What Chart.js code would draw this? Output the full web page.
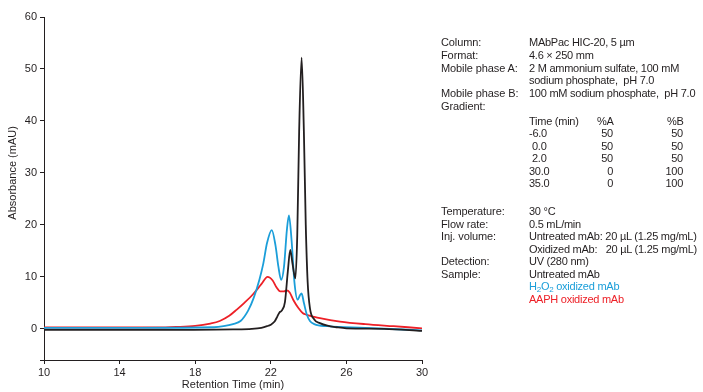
<!DOCTYPE html>
<html>
<head>
<meta charset="utf-8">
<script src="https://cdn.jsdelivr.net/npm/chart.js@4.4.1/dist/chart.umd.min.js"></script>
<style>
  html, body { margin: 0; padding: 0; background: #fff; }
  #wrap { position: relative; width: 703px; height: 392px; overflow: hidden; }
  #chart { position: absolute; left: 0; top: 0; }
  .t { position: absolute; font: 11px "Liberation Sans", Arial, sans-serif; color: #231f20; line-height: 14px; white-space: nowrap; letter-spacing: -0.25px; }
  .k { letter-spacing: -0.1px; }
  .r { text-align: right; }
  .blue { color: #1b9ed9; }
  .red { color: #ed2027; }
  sub { font-size: 8px; vertical-align: -2px; line-height: 0; }
</style>
</head>
<body>
<div id="wrap">
  <canvas id="chart" width="703" height="392"></canvas>

  <div class="t k" style="left:441px;top:35px">Column:</div>
  <div class="t" style="left:529px;top:35px">MAbPac HIC-20, 5 µm</div>
  <div class="t k" style="left:441px;top:48px">Format:</div>
  <div class="t" style="left:529px;top:48px">4.6 × 250 mm</div>
  <div class="t k" style="left:441px;top:61px">Mobile phase A:</div>
  <div class="t" style="left:529px;top:61px">2 M ammonium sulfate, 100 mM</div>
  <div class="t" style="left:529px;top:73px">sodium phosphate,&nbsp; pH 7.0</div>
  <div class="t k" style="left:441px;top:86px">Mobile phase B:</div>
  <div class="t" style="left:529px;top:86px">100 mM sodium phosphate,&nbsp; pH 7.0</div>
  <div class="t k" style="left:441px;top:99px">Gradient:</div>

  <div class="t" style="left:529px;top:114px">Time (min)</div>
  <div class="t" style="left:597px;top:114px">%A</div>
  <div class="t" style="left:667px;top:114px">%B</div>
  <div id="grad"></div>

  <div class="t k" style="left:441px;top:204px">Temperature:</div>
  <div class="t" style="left:529px;top:204px">30 °C</div>
  <div class="t k" style="left:441px;top:217px">Flow rate:</div>
  <div class="t" style="left:529px;top:217px">0.5 mL/min</div>
  <div class="t k" style="left:441px;top:229px">Inj. volume:</div>
  <div class="t" style="left:529px;top:229px">Untreated mAb: 20 µL (1.25 mg/mL)</div>
  <div class="t" style="left:529px;top:242px">Oxidized mAb:&nbsp;&nbsp; 20 µL (1.25 mg/mL)</div>
  <div class="t k" style="left:441px;top:254px">Detection:</div>
  <div class="t" style="left:529px;top:254px">UV (280 nm)</div>
  <div class="t k" style="left:441px;top:267px">Sample:</div>
  <div class="t" style="left:529px;top:267px">Untreated mAb</div>
  <div class="t blue" style="left:529px;top:279px">H<sub>2</sub>O<sub>2</sub> oxidized mAb</div>
  <div class="t red" style="left:529px;top:292px">AAPH oxidized mAb</div>
</div>

<script>
// gradient table
const gradTimes = ['-6.0', '0.0', '2.0', '30.0', '35.0']
const gradA = [50, 50, 50, 0, 0]
const gradB = [50, 50, 50, 100, 100]

// untreated mAb (black)
const untreatedTime = [10, 15, 20, 21, 21.5, 21.8, 22.0, 22.2, 22.35, 22.45, 22.6, 22.75, 22.9, 23.03, 23.15, 23.3, 23.4, 23.5, 23.63, 23.75, 23.85, 23.95, 24.07, 24.3, 24.6, 25, 25.5, 26, 28, 30]
const untreatedAbs = [-0.2, -0.2, -0.1, 0, 0.2, 0.5, 0.8, 1.4, 2.4, 3.1, 3.6, 5.2, 11, 15.2, 12.5, 9.7, 18, 38, 52.2, 38, 20, 9, 4, 1.8, 1.1, 0.6, 0.3, 0.1, 0, -0.4]

// H2O2 oxidized mAb (blue)
const h2o2Time = [10, 15, 19, 19.5, 20, 20.4, 20.8, 21.1, 21.4, 21.6, 21.8, 22.05, 22.25, 22.4, 22.55, 22.7, 22.85, 22.96, 23.1, 23.25, 23.42, 23.55, 23.63, 23.75, 23.9, 24.07, 24.3, 25, 27, 30]
const h2o2Abs = [0.2, 0.2, 0.3, 0.5, 0.9, 1.5, 3.5, 6, 9.5, 12.5, 16.5, 19, 16, 12, 9.4, 12, 19, 21.8, 17, 9, 5.6, 6.5, 6.8, 5, 2.8, 1.5, 0.9, 0.5, 0.2, -0.3]

// AAPH oxidized mAb (red)
const aaphTime = [10, 16, 17, 18, 18.8, 19.3, 19.8, 20.2, 20.6, 21.07, 21.5, 21.83, 22.1, 22.3, 22.5, 22.7, 22.84, 23.0, 23.2, 23.46, 23.7, 23.9, 24.3, 24.6, 25.66, 27, 28.5, 30]
const aaphAbs = [0.25, 0.25, 0.35, 0.55, 1.0, 1.5, 2.5, 3.7, 5, 6.7, 8.6, 10, 9.3, 8, 7.2, 7.2, 7.4, 7, 5.5, 4, 3, 2.7, 2.3, 2.05, 1.4, 0.9, 0.5, 0.1]

const yTicks = [-6, 0, 10, 20, 30, 40, 50, 60]

const ink = '#231f20'
const font = { family: '"Liberation Sans", Arial, sans-serif', size: 11 }

// build gradient rows
const grad = document.getElementById('grad')
gradTimes.forEach((t, i) => {
  const top = 126 + i * 12.6
  const pad = t.startsWith('-') || t.length > 3 ? 0 : 3
  grad.insertAdjacentHTML('beforeend',
    `<div class="t" style="left:${529 + pad}px;top:${top}px">${t}</div>` +
    `<div class="t r" style="right:${703 - 613}px;top:${top}px">${gradA[i]}</div>` +
    `<div class="t r" style="right:${703 - 683}px;top:${top}px">${gradB[i]}</div>`)
})

const pts = (xs, ys) => xs.map((x, i) => ({ x: x, y: ys[i] }))

const axisTitles = {
  id: 'axisTitles',
  afterDraw(chart) {
    const ctx = chart.ctx
    const xs = chart.scales.x
    const ys = chart.scales.y
    ctx.save()
    ctx.fillStyle = ink
    ctx.font = `${font.size}px ${font.family}`
    ctx.textAlign = 'center'
    ctx.textBaseline = 'middle'
    ctx.fillText('Retention Time (min)', (xs.left + xs.right) / 2, 385)
    ctx.translate(13, ys.getPixelForValue(30))
    ctx.rotate(-Math.PI / 2)
    ctx.fillText('Absorbance (mAU)', 0, 0)
    ctx.restore()
  }
}

new Chart(document.getElementById('chart'), {
  type: 'line',
  data: {
    datasets: [
      { label: 'Untreated mAb', data: pts(untreatedTime, untreatedAbs), borderColor: ink, borderWidth: 1.8 },
      { label: 'H2O2 oxidized mAb', data: pts(h2o2Time, h2o2Abs), borderColor: '#1b9ed9', borderWidth: 1.8 },
      { label: 'AAPH oxidized mAb', data: pts(aaphTime, aaphAbs), borderColor: '#ed2027', borderWidth: 1.8 }
    ]
  },
  options: {
    responsive: false,
    animation: false,
    events: [],
    layout: { padding: { top: 17, right: 281, left: 0, bottom: 0 } },
    elements: {
      point: { radius: 0 },
      line: { cubicInterpolationMode: 'monotone', fill: false }
    },
    plugins: {
      legend: { display: false },
      tooltip: { enabled: false }
    },
    scales: {
      x: {
        type: 'linear',
        min: 10,
        max: 30,
        afterFit: s => { s.height = 32 },
        ticks: { stepSize: 4, color: ink, font: font, padding: 2, maxRotation: 0 },
        grid: { display: true, drawOnChartArea: false, drawTicks: true, tickLength: 4, color: ink },
        border: { display: true, color: ink, width: 1 }
      },
      y: {
        min: -6,
        max: 60,
        afterFit: s => { s.width = 44 },
        afterBuildTicks: s => { s.ticks = yTicks.map(v => ({ value: v })) },
        ticks: {
          color: ink,
          font: font,
          padding: 3,
          callback: v => (v < 0 ? '' : v)
        },
        grid: { display: true, drawOnChartArea: false, drawTicks: true, tickLength: 4, color: ink },
        border: { display: true, color: ink, width: 1 }
      }
    }
  },
  plugins: [axisTitles]
})
</script>
</body>
</html>
